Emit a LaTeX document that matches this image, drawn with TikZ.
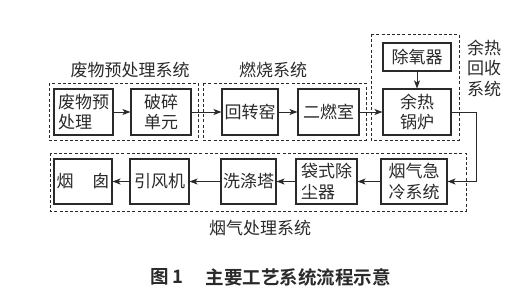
\documentclass[tikz,border=0pt]{standalone}
\usepackage{fontspec}
\setmainfont{Noto Sans CJK SC}[BoldFont={Noto Sans CJK SC Bold}]
\usetikzlibrary{arrows.meta}
\definecolor{ink}{HTML}{2A2A2A}
\tikzset{
  box/.style={draw=ink, line width=1.1pt, inner sep=0pt, minimum height=46pt, text=ink,
    font=\fontsize{17}{20.5}\selectfont},
  grp/.style={draw=ink, line width=0.9pt, dash pattern=on 3pt off 2.2pt},
  lab/.style={text=ink, inner sep=0pt, font=\fontsize{17}{20.5}\selectfont},
  flow/.style={draw=ink, line width=0.9pt, -{Stealth[length=8pt,width=6pt,inset=2pt]}},
}
\begin{document}
\begin{tikzpicture}[x=1pt,y=-1pt]
\useasboundingbox[fill=white] (0,0) rectangle (527,305);
% groups
\draw[grp] (49,83) rectangle (198,140);
\draw[grp] (203,83) rectangle (366,140);
\draw[grp] (371,34) rectangle (459,140);
\draw[grp] (50,153) rectangle (466,211);
% top row
\node[box, minimum width=59pt, align=left] (pre) at (83.5,112) {废物预\\处理};
\node[box, minimum width=60pt, align=center] (crush) at (161,112) {破碎\\单元};
\node[box, minimum width=56pt] (kiln) at (250,112) {回转窑};
\node[box, minimum width=61pt] (sec) at (328.5,112) {二燃室};
\node[box, minimum width=68pt, align=center] (boiler) at (417,112) {余热\\锅炉};
\node[box, minimum width=68pt, minimum height=28pt] (deox) at (417,57) {除氧器};
% bottom row
\node[box, minimum width=58pt, minimum height=45pt] (stack) at (83,181.5) {烟\hspace{1.1em}囱};
\node[box, minimum width=59pt, minimum height=45pt] (fan) at (159.5,181.5) {引风机};
\node[box, minimum width=55pt, minimum height=45pt] (wash) at (248.5,181.5) {洗涤塔};
\node[box, minimum width=61pt, minimum height=45pt, align=left] (bag) at (326.5,181.5) {袋式除\\尘器};
\node[box, minimum width=66pt, minimum height=45pt, align=center] (quench) at (414,181.5) {烟气急\\冷系统};
% labels
\node[lab] (l1) at (130,70) {废物预处理系统};
\node[lab] (l2) at (273,70) {燃烧系统};
\node[lab, align=center] (l3) at (484,68) {余热\\回收\\系统};
\node[lab] (l4) at (260,228) {烟气处理系统};
\node[lab, font=\bfseries\fontsize{18.5}{22}\selectfont] (cap1) at (167,277) {图\,1};
\node[lab, font=\bfseries\fontsize{18.5}{22}\selectfont] (cap2) at (298,277) {主要工艺系统流程示意};
% connectors
\draw[flow] (pre) -- (crush);
\draw[flow] (crush) -- (kiln);
\draw[flow] (kiln) -- (sec);
\draw[flow] (sec) -- (boiler);
\draw[flow] (deox) -- (boiler);
\coordinate (c1) at (476,112);
\coordinate (c2) at (476,181.5);
\draw[flow] (boiler.east) -- (c1) -- (c2) -- (quench.east);
\draw[flow] (quench) -- (bag);
\draw[flow] (bag) -- (wash);
\draw[flow] (wash) -- (fan);
\draw[flow] (fan) -- (stack);
\end{tikzpicture}
\end{document}
